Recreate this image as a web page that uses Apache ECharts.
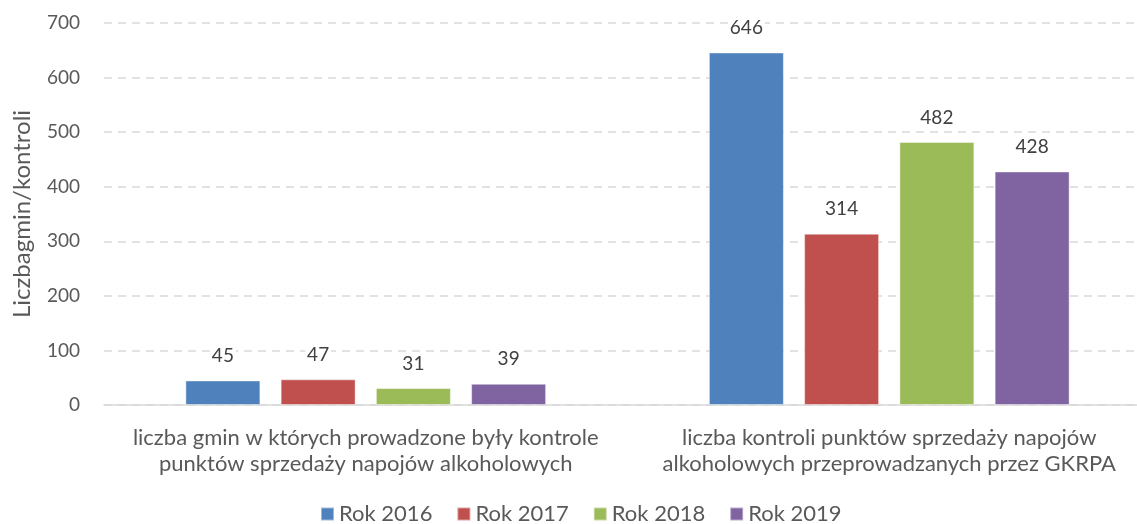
<!DOCTYPE html>
<html>
<head>
<meta charset="utf-8">
<script src="https://cdn.jsdelivr.net/npm/echarts@6/dist/echarts.min.js"></script>
<style>
  html, body { margin: 0; padding: 0; background: #fff; }
  #chart { width: 1137px; height: 524px; }
</style>
</head>
<body>
<div id="chart"></div>
<script>
const categories = [
  'liczba gmin w których prowadzone były kontrole\npunktów sprzedaży napojów alkoholowych',
  'liczba kontroli punktów sprzedaży napojów\nalkoholowych przeprowadzanych przez GKRPA'
]
const seriesNames = ['Rok 2016', 'Rok 2017', 'Rok 2018', 'Rok 2019']
const rok2016 = [45, 646]
const rok2017 = [47, 314]
const rok2018 = [31, 482]
const rok2019 = [39, 428]
const colors = ['#4F81BD', '#C0504D', '#9BBB59', '#8064A2']

const font = 'Lato'
const values = [rok2016, rok2017, rok2018, rok2019]

const chart = echarts.init(document.getElementById('chart'))
chart.setOption({
  animation: false,
  textStyle: { fontFamily: font },
  grid: { left: 104, width: 1047, top: 23, bottom: 119, outerBoundsMode: 'none', containLabel: false },
  legend: {
    left: 315,
    bottom: -6,
    itemWidth: 13,
    itemHeight: 13,
    itemGap: 24,
    icon: 'rect',
    textStyle: { fontSize: 22, color: '#595959', fontFamily: font },
    data: seriesNames
  },
  xAxis: {
    type: 'category',
    data: categories,
    axisLine: { lineStyle: { color: '#d9d9d9', width: 1.5 } },
    axisTick: { show: false },
    axisLabel: { fontSize: 22, color: '#595959', lineHeight: 26, margin: 20, interval: 0 }
  },
  yAxis: {
    type: 'value',
    min: 0,
    max: 700,
    interval: 100,
    name: 'Liczbagmin/kontroli',
    nameLocation: 'middle',
    nameGap: 70,
    nameTextStyle: { fontSize: 24, color: '#595959' },
    axisLine: { show: false },
    axisTick: { show: false },
    axisLabel: { fontSize: 19, color: '#595959', margin: 24 },
    splitLine: { lineStyle: { color: '#d9d9d9', type: [8, 6], width: 1.5 } }
  },
  series: seriesNames.map((name, i) => ({
    name: name,
    type: 'bar',
    data: values[i],
    barWidth: 75,
    barGap: '27%',
    itemStyle: { color: colors[i], borderColor: 'rgba(255,255,255,0.45)', borderWidth: 1 },
    label: {
      show: true,
      position: 'top',
      distance: 15,
      fontSize: 19,
      color: '#404040',
      backgroundColor: '#fff',
      padding: [0, 2]
    }
  }))
})
</script>
</body>
</html>
